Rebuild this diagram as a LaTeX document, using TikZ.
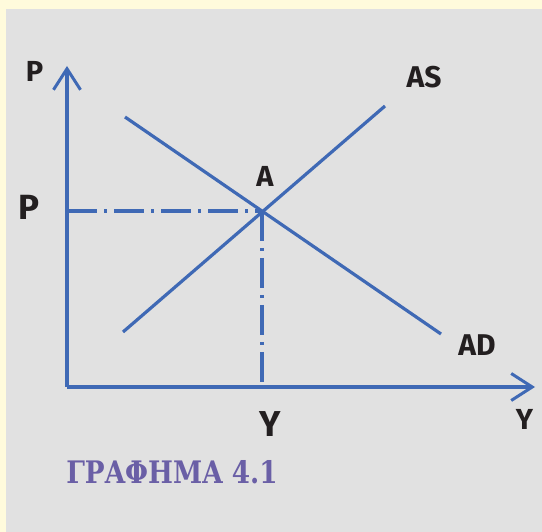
\documentclass[tikz,border=0pt]{standalone}
\usepackage{fontspec}
\setmainfont{Fira Sans}
\newfontfamily\titlefont{DejaVu Serif}
\usetikzlibrary{arrows.meta}
\definecolor{frame}{HTML}{FFFBDC}
\definecolor{panel}{HTML}{E1E1E1}
\definecolor{axis}{HTML}{3F69B5}
\definecolor{ink}{HTML}{231F20}
\definecolor{title}{HTML}{6A5FA6}
\tikzset{
  ax/.style={-{Straight Barb[length=21pt,width=27pt,line width=3pt]},draw=axis,line width=3.6pt},
  curve/.style={draw=axis,line width=3.2pt},
  guide/.style={draw=axis,line width=3.6pt,dash pattern=on 30pt off 7pt on 3pt off 7pt},
  lab/.style={anchor=base,font=\bfseries,text=ink,inner sep=0pt},
}

\begin{document}
\begin{tikzpicture}[x=1pt,y=-1pt]
\useasboundingbox (0,0) rectangle (542,532);
\fill[frame] (0,0) rectangle (542,532);
\fill[panel] (6,9) rectangle (542,532);
% axes
\coordinate (O) at (67,387);
\coordinate (Ptop) at (67,66);
\coordinate (Yend) at (535,387);
\draw[ax] (O) -- (Ptop);
\draw[ax] (O) -- (Yend);
% curves
\coordinate (ASlo) at (123,332);
\coordinate (AShi) at (385,106);
\coordinate (ADhi) at (125,117);
\coordinate (ADlo) at (441,334);
\coordinate (A) at (262,211);
\draw[curve] (ASlo) -- (AShi);
\draw[curve] (ADhi) -- (ADlo);
% equilibrium guides
\draw[guide] (A -| O) -- (A);
\draw[guide] (A) -- (A |- O);
% labels
\node[lab,font=\bfseries\fontsize{29}{29}\selectfont] (pax) at (34.5,82) {P};
\node[lab,font=\bfseries\fontsize{35}{35}\selectfont] (peq) at (29.5,220) {P};
\node[lab,font=\bfseries\fontsize{29}{29}\selectfont] (alab) at (265,187) {A};
\node[lab,font=\bfseries\fontsize{30}{30}\selectfont] (aslab) at (424,88) {AS};
\node[lab,font=\bfseries\fontsize{30}{30}\selectfont] (adlab) at (477,356) {AD};
\node[lab,font=\bfseries\fontsize{36}{36}\selectfont] (yeq) at (270,437) {Y};
\node[lab,font=\bfseries\fontsize{29}{29}\selectfont] (yax) at (524.5,430) {Y};
\node[lab,text=title,font=\titlefont\bfseries\fontsize{31}{31}\selectfont] (cap) at (172,483) {\scalebox{0.85}[1]{ΓΡΑΦΗΜΑ 4.1}};
\end{tikzpicture}
\end{document}
